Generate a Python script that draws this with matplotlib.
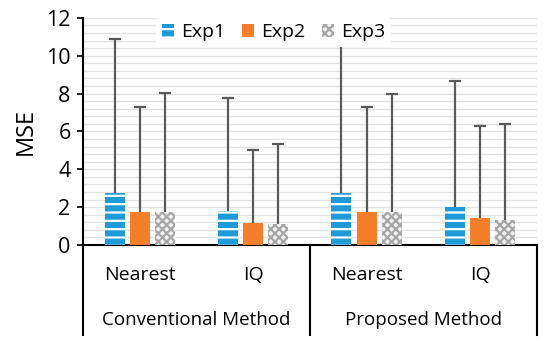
import numpy as np
import matplotlib
matplotlib.use("Agg")
import matplotlib.pyplot as plt
from matplotlib.ticker import MultipleLocator

plt.rcParams['font.family'] = ['Open Sans', 'DejaVu Sans']
plt.rcParams['hatch.linewidth'] = 1.6

# Data
methods = ['Nearest', 'IQ', 'Nearest', 'IQ']
groups = ['Conventional Method', 'Proposed Method']
series = ['Exp1', 'Exp2', 'Exp3']
exp1 = [2.75, 1.82, 2.75, 2.0]
exp2 = [1.75, 1.15, 1.75, 1.43]
exp3 = [1.75, 1.10, 1.75, 1.32]
exp1_err = [8.15, 5.95, 8.15, 6.67]
exp2_err = [5.55, 3.85, 5.55, 4.87]
exp3_err = [6.28, 4.24, 6.22, 5.08]

fig = plt.figure(figsize=(5.5, 3.5), dpi=100)
ax = fig.add_axes([0.151, 0.30, 0.825, 0.649])

x = np.arange(len(methods))
w = 0.176
off = 0.222
err_kw = dict(ecolor='#595959', elinewidth=1.6, capsize=4, capthick=1.6)

styles = [
    dict(color='#1E9AD6', edgecolor='white', hatch='--', linewidth=0),
    dict(color='#F47E2A', edgecolor='#F47E2A', linewidth=0),
    dict(color='#F2F2F2', edgecolor='#A6A6A6', hatch='xxxx', linewidth=0),
]
vals = [exp1, exp2, exp3]
errs = [exp1_err, exp2_err, exp3_err]
for i, (name, v, e, st) in enumerate(zip(series, vals, errs, styles)):
    yerr = [np.zeros(len(e)), e]
    bc = ax.bar(x + (i - 1) * off, v, w, yerr=yerr, error_kw=err_kw, label=name,
                zorder=3, **st)
    # only the upper cap, like the original
    caps = bc.errorbar.lines[1]
    caps[0].set_visible(False)

ax.set_xlim(-0.5, 3.5)
ax.set_ylim(0, 12)
ax.yaxis.set_major_locator(MultipleLocator(2))
ax.yaxis.set_minor_locator(MultipleLocator(0.4))
ax.grid(axis='y', which='both', color='#E3E3E3', linewidth=1.0, zorder=0)
ax.set_axisbelow(True)
ax.tick_params(axis='y', which='major', labelsize=15.5, length=4, width=1.2, pad=5)
ax.tick_params(axis='y', which='minor', length=0)
ax.set_xticks([])
for s in ['top', 'right']:
    ax.spines[s].set_visible(False)
ax.spines['left'].set_linewidth(1.5)
ax.spines['bottom'].set_linewidth(1.5)
ax.set_ylabel('MSE', fontsize=17, labelpad=6)

# category labels
for xi, m in zip(x, methods):
    ax.text(xi, -0.132, m, transform=ax.get_xaxis_transform(), ha='center',
            va='center', fontsize=14)
for gi, g in enumerate(groups):
    ax.text(0.5 + 2 * gi, -0.33, g, transform=ax.get_xaxis_transform(),
            ha='center', va='center', fontsize=13.5)
for xs in [-0.5, 1.5, 3.5]:
    ax.plot([xs, xs], [0, -0.396], color='black', linewidth=1.5,
            transform=ax.get_xaxis_transform(), clip_on=False)

leg = ax.legend(loc='upper center', bbox_to_anchor=(0.42, 1.045), ncol=3,
                frameon=True, fontsize=14, handlelength=0.6, handleheight=0.6,
                handletextpad=0.35, columnspacing=0.9, borderpad=0.3)
leg.get_frame().set_edgecolor('white')
leg.get_frame().set_facecolor('white')
leg.get_frame().set_alpha(1)
leg.get_frame().set_linewidth(0)
leg.set_zorder(5)

fig.savefig('out.png', dpi=100)
